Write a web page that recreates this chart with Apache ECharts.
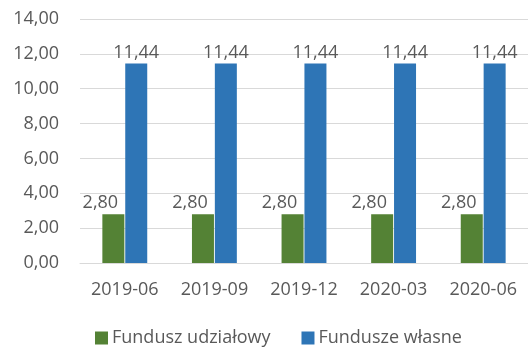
<!DOCTYPE html>
<html>
<head>
<meta charset="utf-8">
<script src="https://cdn.jsdelivr.net/npm/echarts@6/dist/echarts.min.js"></script>
<style>
  html, body { margin: 0; padding: 0; background: #fff; }
  #chart { width: 528px; height: 352px; }
</style>
</head>
<body>
<div id="chart"></div>
<script>
// Quarterly periods
var categories = ['2019-06', '2019-09', '2019-12', '2020-03', '2020-06'];
// Series values
var funduszUdzialowy = [2.80, 2.80, 2.80, 2.80, 2.80];
var fundusze = [11.44, 11.44, 11.44, 11.44, 11.44];
// Value axis ticks
var yMin = 0, yMax = 14, yStep = 2;

var FONT = 'Open Sans';
var TXT = '#595959';
var FS = 18;

function plFmt(v) { return Number(v).toFixed(2).replace('.', ','); }

var chart = echarts.init(document.getElementById('chart'), null, { renderer: 'canvas' });
chart.setOption({
  animation: false,
  textStyle: { fontFamily: FONT },
  grid: { left: 80, top: 19, width: 453, height: 244, containLabel: false },
  legend: {
    left: 95, top: 329, padding: 0,
    itemWidth: 13, itemHeight: 13, itemGap: 31,
    icon: 'rect',
    textStyle: { color: TXT, fontSize: FS, fontFamily: FONT, padding: [0, 0, 0, -1] },
    data: ['Fundusz udziałowy', 'Fundusze własne']
  },
  xAxis: {
    type: 'category',
    data: categories,
    axisLine: { show: true, lineStyle: { color: '#d9d9d9', width: 1 } },
    axisTick: { show: false },
    axisLabel: { color: TXT, fontSize: FS, fontFamily: FONT, margin: 18, interval: 0, hideOverlap: false }
  },
  yAxis: {
    type: 'value',
    min: yMin, max: yMax, interval: yStep,
    axisLine: { show: false },
    axisTick: { show: false },
    splitLine: { lineStyle: { color: '#d9d9d9', width: 1 } },
    axisLabel: { color: TXT, fontSize: FS, fontFamily: FONT, margin: 21, formatter: plFmt }
  },
  series: [
    {
      name: 'Fundusz udziałowy',
      type: 'bar',
      data: funduszUdzialowy,
      barWidth: 22,
      barGap: '4%',
      itemStyle: { color: '#548235' },
      label: { show: true, position: 'top', distance: 2, color: TXT, fontSize: FS, fontFamily: FONT, formatter: function (p) { return plFmt(p.value); }, offset: [-13, 0] }
    },
    {
      name: 'Fundusze własne',
      type: 'bar',
      data: fundusze,
      barWidth: 22,
      itemStyle: { color: '#2E75B6' },
      label: { show: true, position: 'top', distance: 2, color: TXT, fontSize: FS, fontFamily: FONT, formatter: function (p) { return plFmt(p.value); } }
    }
  ]
});
</script>
</body>
</html>
